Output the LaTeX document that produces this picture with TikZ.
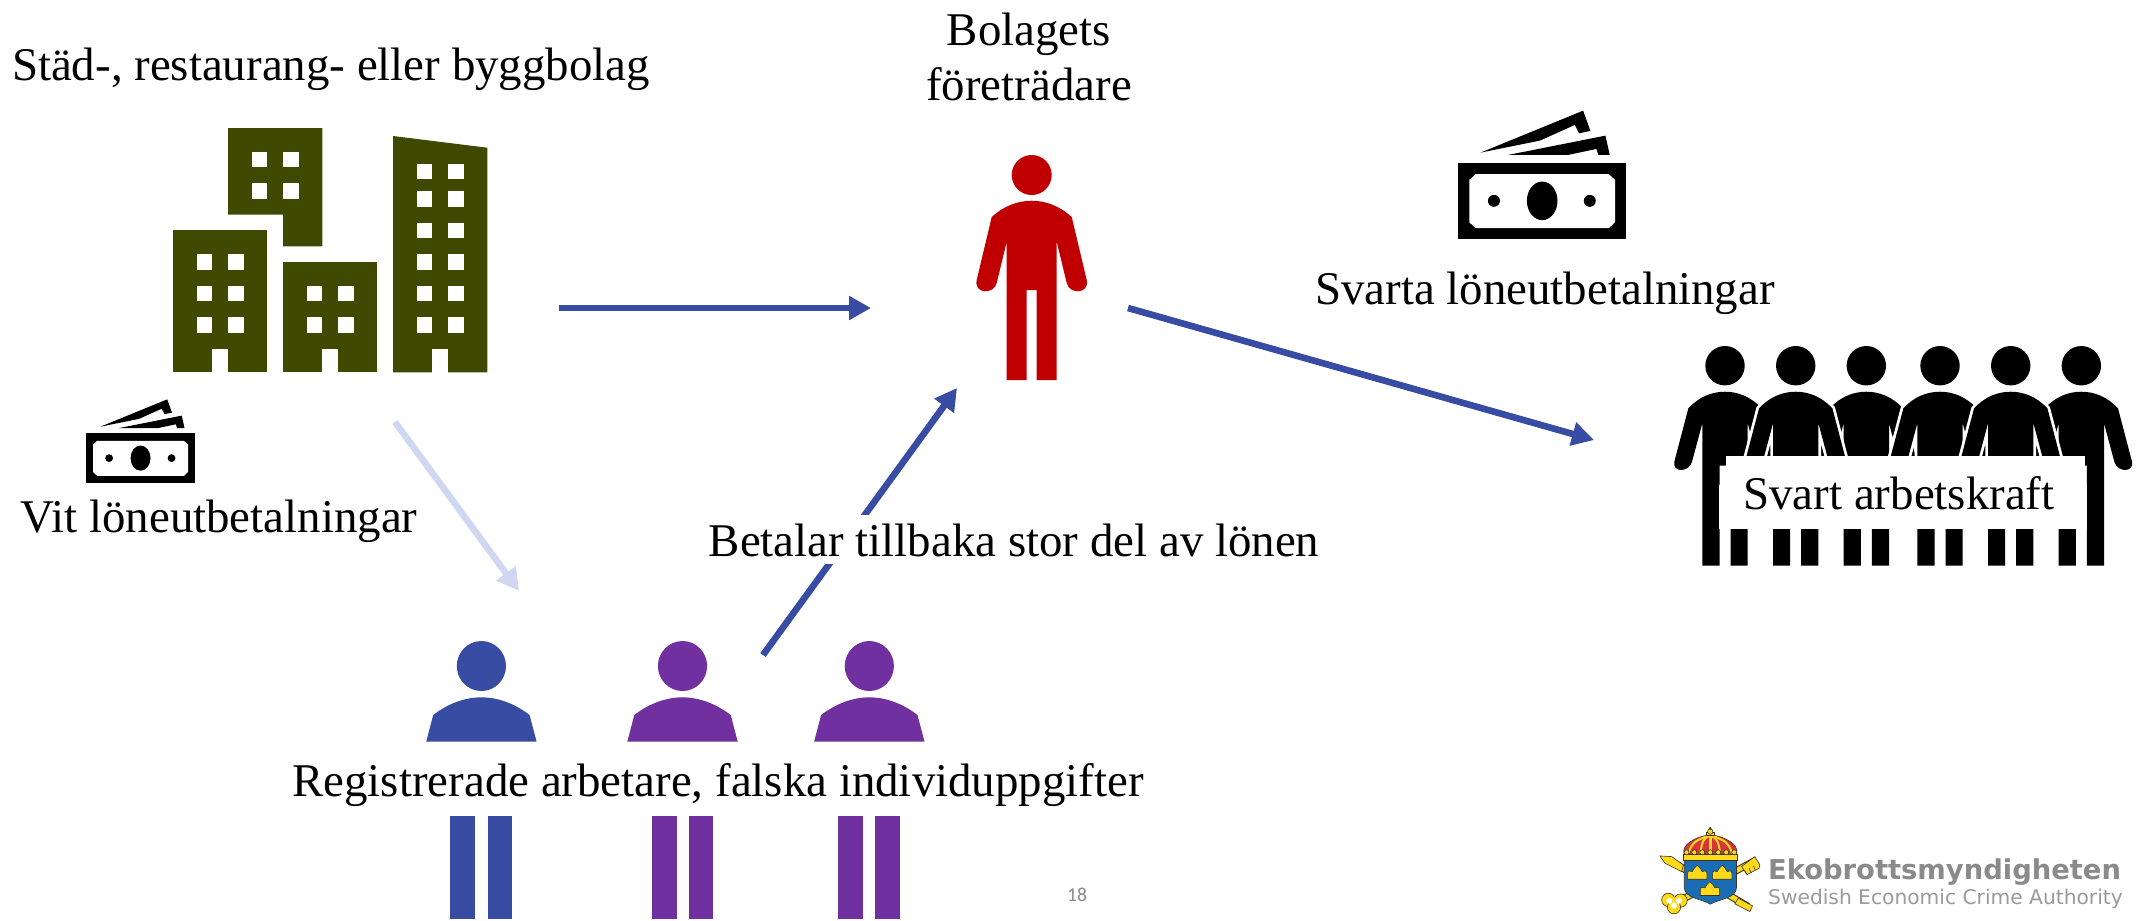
\documentclass[tikz,border=0pt]{standalone}
\usepackage{fontspec}
\setmainfont{Liberation Serif}
\newfontfamily\logofont{DejaVu Sans}
\newfontfamily\numfont{Carlito}
\usetikzlibrary{arrows.meta}
\definecolor{arrowblue}{HTML}{374CA2}
\definecolor{lightarrow}{HTML}{CFD8F0}
\definecolor{purp}{HTML}{7030A0}
\definecolor{redman}{HTML}{C00000}
\definecolor{olive}{HTML}{404900}
\definecolor{logogray}{HTML}{8A8A8A}
\definecolor{logolight}{HTML}{9A9A9A}
\definecolor{logoyellow}{HTML}{FFD91A}
\definecolor{logored}{HTML}{D8343C}
\definecolor{logoblue}{HTML}{1A6DB5}
\definecolor{logodark}{HTML}{3A3320}
\tikzset{
  label text/.style={font=\fontsize{13.33pt}{15.6pt}\selectfont,align=center,text=black,inner sep=0pt},
  flow/.style={draw=arrowblue,line width=0.066cm,-{Triangle[length=0.22cm,width=0.23cm]}},
  lightflow/.style={flow,draw=lightarrow},
  logoline/.style={draw=logodark,line width=0.006cm},
}
% red figure, local units: px from the head centre
\def\redman{(-25,205) -- (-25,66.7) -- (-35,108) .. controls (-38,120) and (-58,119) .. (-55,105) -- (-40,42) .. controls (-28,31) and (-14,25.7) .. (0,25.7) .. controls (14,25.7) and (28,31) .. (40,42) -- (55,105) .. controls (58,119) and (38,120) .. (35,108) -- (25,66.7) -- (25,205) -- (5,205) -- (5,115) -- (-5,115) -- (-5,205) -- cycle}
\def\blackman{(-22.7,200) -- (-22.7,57.6) -- (-33,96) .. controls (-36,107) and (-53,107) .. (-50.7,96) -- (-36.7,42.7) .. controls (-26,31) and (-13,26) .. (0,26) .. controls (13,26) and (26,31) .. (36.7,42.7) -- (50.7,96) .. controls (53,107) and (36,107) .. (33,96) -- (22.7,57.6) -- (22.7,200) -- (5.5,200) -- (5.5,100) -- (-5.5,100) -- (-5.5,200) -- cycle}
\newcommand{\crowdman}[1]{%
  \begin{scope}[shift={(#1,365.7)}]
    \fill[black] (0,0) circle[radius=19.7];
    \draw[white,line width=0.055cm] \blackman;
    \fill[black] \blackman;
  \end{scope}}
\newcommand{\worker}[2]{%
  \begin{scope}[shift={(#1,666)}]
    \fill[#2] (0,0) ellipse[x radius=24.6,y radius=25];
    \fill[#2] (-55.2,75.7) -- (-48.2,49) .. controls (-34,38) and (-17,31.3) .. (0,31.3) .. controls (17,31.3) and (34,38) .. (48.2,49) -- (55.2,75.7) -- cycle;
    \fill[#2] (-31,150) rectangle (-6,253.3);
    \fill[#2] (6.1,150) rectangle (30.7,253.3);
  \end{scope}}
\newcommand{\banknote}{%
  \fill[black] (54,188) rectangle (560,418);
  \fill[white] (88,240) -- (107,223) -- (507,223) -- (526,240) -- (526,367) -- (507,385) -- (107,385) -- (88,367) -- cycle;
  \fill[black] (307,303) ellipse[x radius=46,y radius=58];
  \fill[black] (162,303) circle[radius=18];
  \fill[black] (450,303) circle[radius=18];
  \fill[black] (122,158) -- (430,32) -- (452,93) -- (418,100) -- (405,75) -- (300,122) -- cycle;
  \fill[black] (205,165) -- (497,107) -- (510,165) -- (476,165) -- (470,147) -- (385,165) -- cycle;}
\newcommand{\minicrown}[2]{%
  \begin{scope}[shift={(#1,#2)}]
    \fill[logoyellow,logoline] (-29,20) -- (-29,5) .. controls (-31,-6) and (-20,-8) .. (-15,-3) .. controls (-12,-14) and (-5,-14) .. (0,-22) .. controls (5,-14) and (12,-14) .. (15,-3) .. controls (20,-8) and (31,-6) .. (29,5) -- (29,20) -- cycle;
  \end{scope}}
\begin{document}
\begin{tikzpicture}[x=0.01cm,y=-0.01cm]
\useasboundingbox (0,0) rectangle (2143,920);

% buildings
\fill[olive] (228,128) -- (322.3,128) -- (322.3,246.3) -- (283,246.3) -- (283,214.7) -- (228,214.7) -- cycle;
\foreach \wx in {251.7,283} \foreach \wy in {151.7,183} \fill[white] (\wx,\wy) rectangle +(15.7,15.7);
\fill[olive] (172.7,230.3) rectangle (267.3,372.3);
\fill[white] (212.3,348.7) rectangle (228,372.6);
\foreach \wx in {196.7,228} \foreach \wy in {254,285.7,317.3} \fill[white] (\wx,\wy) rectangle +(15.7,15.7);
\fill[olive] (283,262) rectangle (377.3,372.3);
\fill[white] (322.3,348.7) rectangle (338,372.6);
\foreach \wx in {306.7,338} \foreach \wy in {285.7,317.3} \fill[white] (\wx,\wy) rectangle +(15.7,15.7);
\fill[olive] (393,136) -- (487.3,147.7) -- (487.3,372.3) -- (393,372.3) -- cycle;
\fill[white] (432.3,348.7) rectangle (448,372.6);
\foreach \wx in {416.7,448} \foreach \wy in {163.7,191,222.7,254,285.7,317.3} \fill[white] (\wx,\wy) rectangle +(15.7,15.7);

% red figure
\fill[redman] (1031.7,175) circle[radius=20];
\begin{scope}[shift={(1031.7,175)}]
  \fill[redman] \redman;
\end{scope}

% banknotes
\begin{scope}[shift={(1440,100)},x=0.003333cm,y=-0.003333cm]
  \banknote
\end{scope}
\begin{scope}[shift={(74,392.4)},x=0.002173cm,y=-0.002173cm]
  \banknote
\end{scope}

% crowd
\crowdman{1725}
\crowdman{2081.3}
\crowdman{1866.3}
\crowdman{1940}
\crowdman{1795.7}
\crowdman{2010.7}
\fill[white] (1726,456) rectangle (2085,529.3);
\fill[white] (1719.3,485) rectangle (2086.7,529.3);

% workers
\worker{481.4}{arrowblue}
\worker{682.5}{purp}
\worker{869.3}{purp}

% connector ends
\coordinate (bolagOut) at (559,308);
\coordinate (repIn) at (871,308);
\coordinate (repOut) at (1128,308);
\coordinate (svartIn) at (1594,440);
\coordinate (workerOut) at (763,655);
\coordinate (repBack) at (957,388);
\coordinate (bolagDown) at (395,422);
\coordinate (workerIn) at (519,591);

\draw[flow] (bolagOut) -- (repIn);
\draw[flow] (repOut) -- (svartIn);
\draw[flow] (workerOut) -- (repBack);
\draw[lightflow] (bolagDown) -- (workerIn);

% texts
\node[label text,anchor=base] (bolag) at (331,80) {Städ-, restaurang- eller byggbolag};
\node[label text,anchor=base] (rep1) at (1029,45) {Bolagets};
\node[label text,anchor=base] (rep2) at (1029,100) {företrädare};
\node[label text,anchor=base] (black) at (1545,304) {Svarta löneutbetalningar};
\node[label text,anchor=base] (crowd) at (1899,509) {Svart arbetskraft};
\node[label text,anchor=base] (white) at (219,532) {Vit löneutbetalningar};
\node[label text,anchor=base,fill=white,inner xsep=0.05cm,inner ysep=0.08cm] (back) at (1014,556) {Betalar tillbaka stor del av lönen};
\node[label text,anchor=base] (workers) at (718,796) {Registrerade arbetare, falska individuppgifter};
\node[anchor=base,inner sep=0pt,text=logogray,font=\numfont\fontsize{5.6pt}{6pt}\selectfont] (page) at (1077,901) {18};

% logo
\begin{scope}[shift={(1640,800)},x=0.003333cm,y=-0.003333cm]
  % keys
  \draw[logodark,line width=0.072cm] (95,185) -- (325,320);
  \draw[logoyellow,line width=0.05cm] (95,185) -- (325,320);
  \draw[logodark,line width=0.072cm] (350,180) -- (115,305);
  \draw[logoyellow,line width=0.05cm] (350,180) -- (115,305);
  \fill[logoyellow,logoline] (60,168) -- (95,170) -- (130,195) -- (125,215) -- (95,200) -- (75,190) -- cycle;
  \fill[logoyellow,logoline] (305,200) -- (345,170) -- (360,195) -- (358,205) -- (322,224) -- cycle;
  \fill[logoyellow,logoline] (295,295) -- (338,318) -- (330,335) -- (285,312) -- cycle;
  \foreach \tx/\ty in {315/212,328/205,341/198} \draw[logodark,line width=0.006cm] (\tx,\ty) -- ++(5,12);
  \foreach \cx/\cy in {85/300,122/302,102/322} \fill[logoyellow,logoline] (\cx,\cy) circle[radius=20];
  \fill[logoyellow] (102,308) circle[radius=16];
  \foreach \cx/\cy in {88/303,117/303,102/317} \fill[white] (\cx,\cy) circle[radius=9];
  % shield
  \fill[logoblue,logoline] (133,180) -- (133,262) .. controls (133,296) and (185,296) .. (211,313) .. controls (240,296) and (290,296) .. (290,262) -- (290,180) -- cycle;
  \minicrown{172}{218}
  \minicrown{247}{218}
  \minicrown{210}{267}
  % crown
  \fill[logored,logoline] (132,160) .. controls (125,135) and (165,110) .. (211,104) .. controls (258,110) and (298,135) .. (290,160) -- cycle;
  \foreach \ax/\ay in {160/125,188/120,234/120,262/125} \draw[logoyellow,line width=0.02cm] (211,105) .. controls (\ax,\ay) and (\ax,\ay) .. ({\ax-(211-\ax)*0.3},160);
  \draw[logoyellow,line width=0.03cm] (211,105) -- (211,150);
  \fill[logoyellow,logoline] (130,162) rectangle (293,182);
  \foreach \bx in {140,163,187,211,235,259,283} \fill[logoyellow,logoline] (\bx,157) circle[radius=7.5];
  \fill[logoyellow,logoline] (200,98) rectangle (222,106);
  \fill[logoyellow,logoline] (211,95) circle[radius=8];
  \fill[logodark] (211,85) circle[radius=4];
  \node[anchor=base west,inner sep=0pt,text=logogray,font=\logofont\bfseries\fontsize{7.78pt}{8pt}\selectfont] (ekoName) at (383,240) {Ekobrottsmyndigheten};
  \node[anchor=base west,inner sep=0pt,text=logolight,font=\logofont\fontsize{5.75pt}{6pt}\selectfont] (ekoSub) at (383,315) {Swedish Economic Crime Authority};
\end{scope}
\end{tikzpicture}
\end{document}
